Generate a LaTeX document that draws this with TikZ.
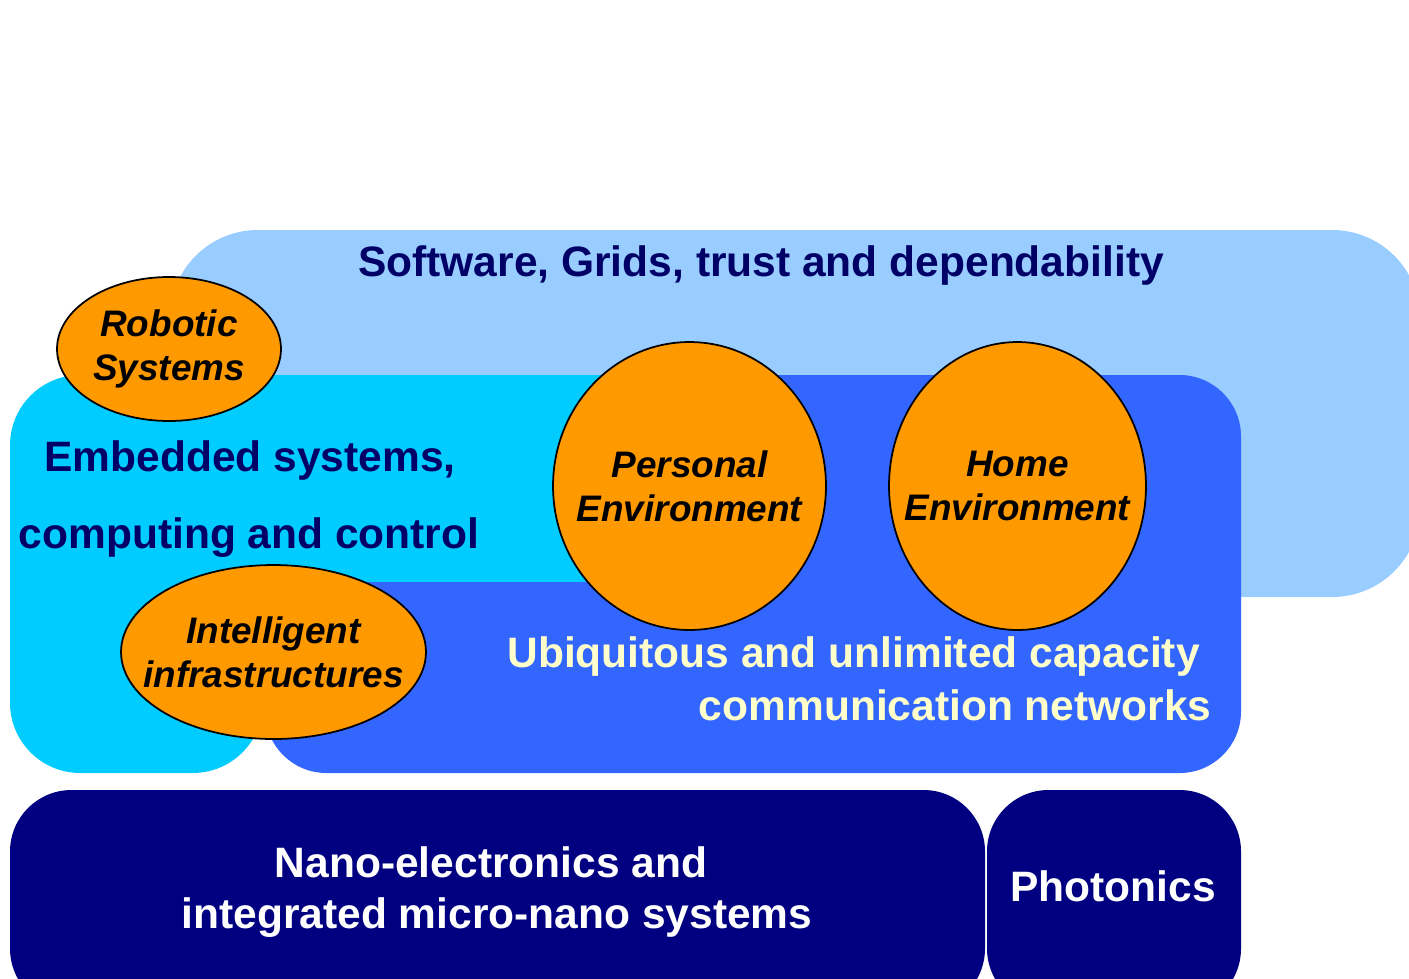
\documentclass[tikz,border=0pt]{standalone}
\usepackage{fontspec}
\setmainfont{Liberation Sans}
\usetikzlibrary{shapes.geometric}

\definecolor{gridblue}{HTML}{99CCFF}
\definecolor{embcyan}{HTML}{00CCFF}
\definecolor{netblue}{HTML}{3366FF}
\definecolor{nanonavy}{HTML}{000080}
\definecolor{blobfill}{HTML}{FF9900}
\definecolor{cream}{HTML}{FFFFCC}
\definecolor{labelnavy}{HTML}{000066}

\tikzset{
	blob/.style={ellipse, draw=black, line width=1pt, fill=blobfill, inner sep=0pt},
	blobtext/.style={align=center, text=black, inner sep=0pt, font=\fontsize{21}{25}\selectfont\bfseries\itshape},
	bigtext/.style={inner sep=0pt, font=\fontsize{24.2}{29.5}\selectfont\bfseries},
}

\begin{document}
\begin{tikzpicture}[x=0.02cm, y=-0.02cm]
	%% Page size, in pixels of the reference
	\useasboundingbox (0,0) rectangle (1409,978);
	\clip (0,0) rectangle (1409,978);

	%% The layers, back to front
	\fill [gridblue, rounded corners=50] (170,230) rectangle (1420,597);		% Software layer
	\fill [embcyan, rounded corners=40] (263,582) -- (263,773) -- (10,773) -- (10,375) -- (720,375) -- (720,582) -- cycle;	% Embedded layer
	\fill [netblue, rounded corners=35] (690,375) -- (1241,375) -- (1241,773) -- (265,773) -- (265,582) -- (690,582) -- cycle;	% Network layer
	\fill [nanonavy, rounded corners=35] (10,790) rectangle (985,1010);		% Nano layer
	\fill [nanonavy, rounded corners=35] (987,790) rectangle (1241,1010);	% Photonics

	%% Layer titles
	\node [bigtext, text=labelnavy, anchor=base] (soft) at (761,276) {Software, Grids, trust and dependability};
	\node [bigtext, text=labelnavy, anchor=base] (emb) at (250,471) {Embedded systems,};
	\node [bigtext, text=labelnavy, anchor=base] (comp) at (249,548) {computing and control};
	\node [bigtext, text=cream, anchor=base east] (ubi) at (1200,667) {Ubiquitous and unlimited capacity};
	\node [bigtext, text=cream, anchor=base east] (comm) at (1212,720) {communication networks};
	\node [bigtext, text=white, anchor=base] (nano) at (491,877) {Nano-electronics and};
	\node [bigtext, text=white, anchor=base] (integ) at (497,928) {integrated micro-nano systems};
	\node [bigtext, text=white, anchor=base] (phot) at (1113,901) {Photonics};

	%% The application blobs
	\node [blob, minimum width=4.48cm, minimum height=2.88cm] (robot) at (169,349) {};
	\node [blobtext] at (robot) {Robotic\\Systems};
	\node [blob, minimum width=5.46cm, minimum height=5.76cm] (pers) at (689.5,486) {};
	\node [blobtext] at (pers) {Personal\\Environment};
	\node [blob, minimum width=5.14cm, minimum height=5.76cm] (home) at (1017.5,486) {};
	\node [blobtext] at (home) {Home\\Environment};
	\node [blob, minimum width=6.1cm, minimum height=3.48cm] (infra) at (273.5,652) {};
	\node [blobtext] at (infra) {Intelligent\\infrastructures};
\end{tikzpicture}
\end{document}
